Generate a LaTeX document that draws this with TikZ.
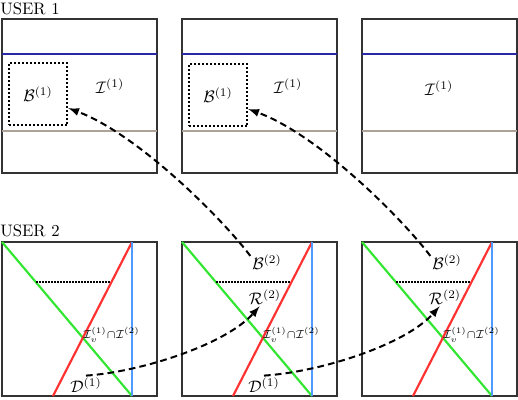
\documentclass[tikz,border=0pt]{standalone}
\usepackage{amsmath}
\usepackage{tikz}

\definecolor{darkblue}{RGB}{40,40,165}
\definecolor{greyline}{RGB}{172,162,152}
\definecolor{brightgreen}{RGB}{50,230,50}
\definecolor{brightred}{RGB}{255,50,50}
\definecolor{lightblue}{RGB}{80,155,255}

\tikzset{
  box/.style={line width=0.7pt, black!80},
  dotbox/.style={draw, line width=1.4pt, dash pattern=on 1.2pt off 1.2pt,
    minimum width=35pt, minimum height=37.4pt, inner sep=0pt},
  lab/.style={inner sep=1pt},
  dasharrow/.style={line width=1.2pt, dash pattern=on 4pt off 2.5pt, -latex}
}

\begin{document}
\begin{tikzpicture}[x=0.6pt,y=-0.6pt]
    \useasboundingbox (0,0) rectangle (518,399);
    % Usuari 1: franja entre la linia blava i la grisa
    \node[anchor=base west, inner sep=0pt] (user1) at (0,14) {USER 1};
    \foreach \s in {0,180,360} {
        \draw[box] (\s+2,19) rectangle (\s+157,173);
        \draw[darkblue, line width=1.3pt] (\s+2,54) -- (\s+157,54);
        \draw[greyline, line width=1.3pt] (\s+2,131) -- (\s+157,131);
    }
    \node[dotbox] (b1) at (38,94) {$\mathcal{B}^{(1)}$};
    \node[dotbox] (b2) at (218,95) {$\mathcal{B}^{(1)}$};
    \node[lab] (i1) at (110,86) {$\mathcal{I}^{(1)}$};
    \node[lab] (i2) at (288,86) {$\mathcal{I}^{(1)}$};
    \node[lab] (i3) at (439,88) {$\mathcal{I}^{(1)}$};

    % Usuari 2: rectes que es tallen
    \node[anchor=base west, inner sep=0pt] (user2) at (0,236) {USER 2};
    \foreach \s/\n in {0/1,180/2,360/3} {
        \draw[box] (\s+2,242) rectangle (\s+157,396);
        \draw[brightgreen, line width=1.3pt] (\s+2,242) -- (\s+132,396);
        \draw[brightred, line width=1.3pt] (\s+53,396) -- (\s+132,242);
        \draw[lightblue, line width=1.3pt] (\s+132,242) -- (\s+132,396);
        \draw[line width=0.9pt, dash pattern=on 0.9pt off 0.9pt] (\s+36,282) -- (\s+110,282);
        \node[lab, anchor=west] (cap\n) at (\s+81,335)
            {\scriptsize$\mathcal{I}_v^{(1)}{\cap}\mathcal{I}^{(2)}$};
    }
    \node[lab] (d1) at (86,385) {$\mathcal{D}^{(1)}$};
    \node[lab] (d2) at (264,385) {$\mathcal{D}^{(1)}$};
    \node[lab] (bb2) at (267,262) {$\mathcal{B}^{(2)}$};
    \node[lab] (r2) at (265,297) {$\mathcal{R}^{(2)}$};
    \node[lab] (bb3) at (447,262) {$\mathcal{B}^{(2)}$};
    \node[lab] (r3) at (445,297) {$\mathcal{R}^{(2)}$};

    % Fletxes
    \draw[dasharrow] (bb2.160) .. controls (225,222) and (140,135) .. (b1.-25);
    \draw[dasharrow] (bb3.160) .. controls (405,222) and (320,135) .. (b2.-25);
    \draw[dasharrow] (d1.north) .. controls (140,372) and (225,345) .. (r2.-120);
    \draw[dasharrow] (d2.north) .. controls (320,372) and (405,345) .. (r3.-120);
\end{tikzpicture}
\end{document}
